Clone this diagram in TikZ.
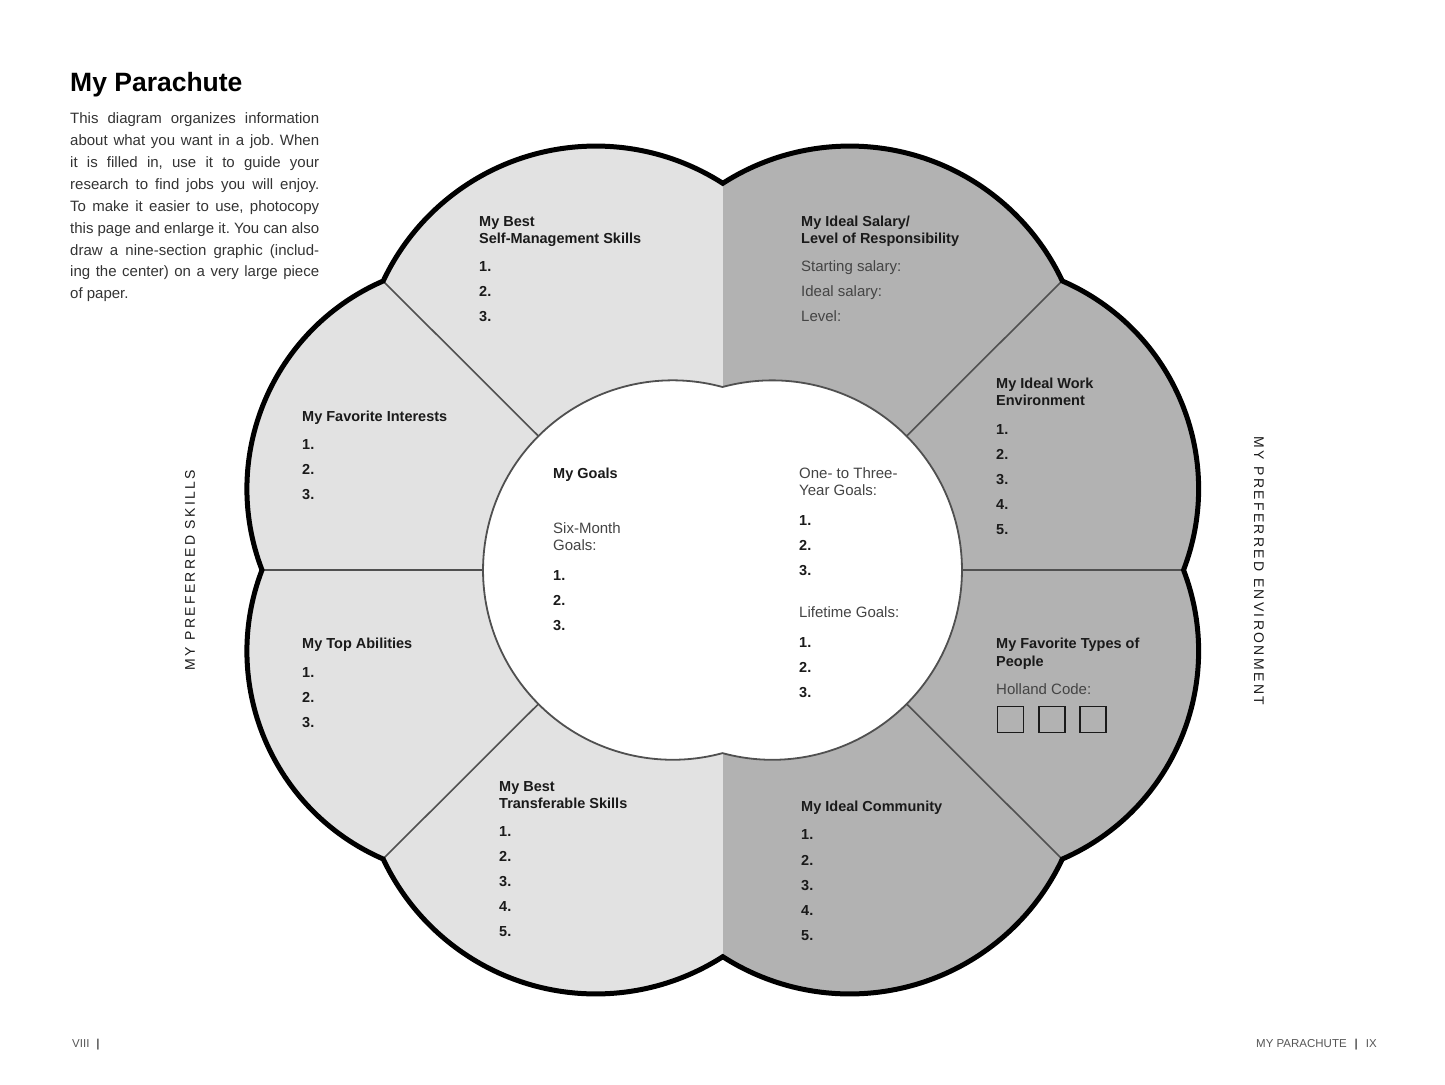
\documentclass[tikz,border=0pt]{standalone}
\usepackage{fontspec}
\setmainfont{Liberation Sans}
\frenchspacing
\definecolor{lightg}{HTML}{E2E2E2}
\definecolor{darkg}{HTML}{B2B2B2}
\definecolor{divline}{HTML}{505050}
\definecolor{ink}{HTML}{1A1A1A}
\definecolor{subink}{HTML}{444444}
\definecolor{bodyink}{HTML}{333333}
\definecolor{footink}{HTML}{555555}
\tikzset{
  head/.style={font=\fontsize{14.5}{17}\selectfont\bfseries, text=ink, inner sep=0pt, anchor=base west},
  sub/.style={font=\fontsize{15}{17}\selectfont, text=subink, inner sep=0pt, anchor=base west},
  body/.style={font=\fontsize{15}{22}\selectfont, text=bodyink, inner sep=0pt, anchor=base west},
  sidelbl/.style={font=\fontsize{14}{17}\selectfont\addfontfeatures{LetterSpace=17}, text=ink, inner sep=0pt},
  foot/.style={font=\fontsize{11.5}{14}\selectfont, text=footink, inner sep=0pt},
  divider/.style={draw=divline, line width=1.6pt},
  hbox/.style={draw=ink, line width=1.8pt, minimum size=26pt, inner sep=0pt},
}
\newcommand\flower[1]{\path[#1] (262,570)
  arc[start angle=159.0, end angle=246.5, radius=226.6]
  arc[start angle=205.2, end angle=302.7, radius=235]
  arc[start angle=237.3, end angle=334.8, radius=235]
  arc[start angle=-66.5, end angle=21.0, radius=226.6]
  arc[start angle=-21.0, end angle=66.5, radius=226.6]
  arc[start angle=25.2, end angle=122.7, radius=235]
  arc[start angle=57.3, end angle=154.8, radius=235]
  arc[start angle=113.5, end angle=201.0, radius=226.6] -- cycle;}
\newcommand\goals[1]{\path[#1] (722.5,387)
  arc[start angle=-74.8, end angle=-285.2, radius=189.7]
  arc[start angle=105.2, end angle=-105.2, radius=189.7] -- cycle;}
\newcommand\T[4]{\node[#1] (#2) at (#3) {#4};}
\begin{document}
\begin{tikzpicture}[x=1pt,y=-1pt]
\useasboundingbox (0,0) rectangle (1445,1084);
% cusps and centres
\coordinate (p1) at (722.5,183);
\coordinate (p2) at (1062,281);
\coordinate (p3) at (1183,570);
\coordinate (p4) at (1062,859);
\coordinate (p5) at (722.5,957);
\coordinate (p6) at (383,859);
\coordinate (p7) at (262,570);
\coordinate (p8) at (383,281);
\coordinate (lc) at (672.7,570);
\coordinate (rc) at (772.3,570);
% fills
\begin{scope}
  \flower{clip}
  \fill[lightg] (0,0) rectangle (722.5,1084);
  \fill[darkg] (722.5,0) rectangle (1445,1084);
\end{scope}
% dividers
\draw[divider] (p8) -- (lc);
\draw[divider] (p7) -- (lc);
\draw[divider] (p6) -- (lc);
\draw[divider] (p2) -- (rc);
\draw[divider] (p3) -- (rc);
\draw[divider] (p4) -- (rc);
% centre
\goals{fill=white, draw=divline, line width=1.8pt}
% outline
\flower{draw=black, line width=5pt, line join=miter}
% title and intro
\node[font=\fontsize{26.5}{30}\selectfont\bfseries, text=black, inner sep=0pt, anchor=base west] (title) at (70,91) {My Parachute};
\T{body}{b1}{70,123}{\makebox[249pt][s]{This diagram organizes information}}
\T{body}{b2}{70,145}{\makebox[249pt][s]{about what you want in a job. When}}
\T{body}{b3}{70,167}{\makebox[249pt][s]{it is filled in, use it to guide your}}
\T{body}{b4}{70,189}{\makebox[249pt][s]{research to find jobs you will enjoy.}}
\T{body}{b5}{70,211}{\makebox[249pt][s]{To make it easier to use, photocopy}}
\T{body}{b6}{70,233}{\makebox[249pt][s]{this page and enlarge it. You can also}}
\T{body}{b7}{70,255}{\makebox[249pt][s]{draw a nine-section graphic (includ-}}
\T{body}{b8}{70,276}{\makebox[249pt][s]{ing the center) on a very large piece}}
\T{body}{b9}{70,298}{of paper.}
% top-left
\T{head}{tl1}{479,226}{My Best}
\T{head}{tl2}{479,243}{Self-Management Skills}
\T{head}{tln1}{479,271}{1.}
\T{head}{tln2}{479,296}{2.}
\T{head}{tln3}{479,321}{3.}
% top-right
\T{head}{tr1}{801,226}{My Ideal Salary/}
\T{head}{tr2}{801,243}{Level of Responsibility}
\T{sub}{tr3}{801,271}{Starting salary:}
\T{sub}{tr4}{801,296}{Ideal salary:}
\T{sub}{tr5}{801,321}{Level:}
% left-upper
\T{head}{lu1}{302,421}{My Favorite Interests}
\T{head}{lun1}{302,449}{1.}
\T{head}{lun2}{302,474}{2.}
\T{head}{lun3}{302,499}{3.}
% left-lower
\T{head}{ll1}{302,648}{My Top Abilities}
\T{head}{lln1}{302,677}{1.}
\T{head}{lln2}{302,702}{2.}
\T{head}{lln3}{302,727}{3.}
% bottom-left
\T{head}{bl1}{499,791}{My Best}
\T{head}{bl2}{499,808}{Transferable Skills}
\T{head}{bln1}{499,836}{1.}
\T{head}{bln2}{499,861}{2.}
\T{head}{bln3}{499,886}{3.}
\T{head}{bln4}{499,911}{4.}
\T{head}{bln5}{499,936}{5.}
% bottom-right
\T{head}{br1}{801,811}{My Ideal Community}
\T{head}{brn1}{801,839}{1.}
\T{head}{brn2}{801,865}{2.}
\T{head}{brn3}{801,890}{3.}
\T{head}{brn4}{801,915}{4.}
\T{head}{brn5}{801,940}{5.}
% right-upper
\T{head}{ru1}{996,388}{My Ideal Work}
\T{head}{ru2}{996,405}{Environment}
\T{head}{run1}{996,434}{1.}
\T{head}{run2}{996,459}{2.}
\T{head}{run3}{996,484}{3.}
\T{head}{run4}{996,509}{4.}
\T{head}{run5}{996,534}{5.}
% right-lower
\T{head}{rl1}{996,648}{My Favorite Types of}
\T{head}{rl2}{996,666}{People}
\T{sub}{rl3}{996,694}{Holland Code:}
\node[hbox] (hb1) at (1010.5,719.5) {};
\node[hbox] (hb2) at (1051.8,719.5) {};
\node[hbox] (hb3) at (1093.3,719.5) {};
% centre texts
\T{head}{g1}{553,478}{My Goals}
\T{sub}{g2}{553,533}{Six-Month}
\T{sub}{g3}{553,550}{Goals:}
\T{head}{gn1}{553,580}{1.}
\T{head}{gn2}{553,605}{2.}
\T{head}{gn3}{553,630}{3.}
\T{sub}{g4}{799,478}{One- to Three-}
\T{sub}{g5}{799,495}{Year Goals:}
\T{head}{gm1}{799,525}{1.}
\T{head}{gm2}{799,550}{2.}
\T{head}{gm3}{799,575}{3.}
\T{sub}{g6}{799,617}{Lifetime Goals:}
\T{head}{gk1}{799,647}{1.}
\T{head}{gk2}{799,672}{2.}
\T{head}{gk3}{799,697}{3.}
% side labels
\node[sidelbl, rotate=90] (skills) at (190,570) {MY PREFERRED SKILLS};
\node[sidelbl, rotate=-90] (env) at (1259,571) {MY PREFERRED ENVIRONMENT};
% footer
\node[foot, anchor=base west] (fl) at (72,1047) {VIII\hspace{7pt}{\bfseries|}};
\node[foot, anchor=base east] (fr) at (1377,1047) {MY PARACHUTE\hspace{8pt}{\bfseries|}\hspace{8pt}IX};
\end{tikzpicture}
\end{document}
